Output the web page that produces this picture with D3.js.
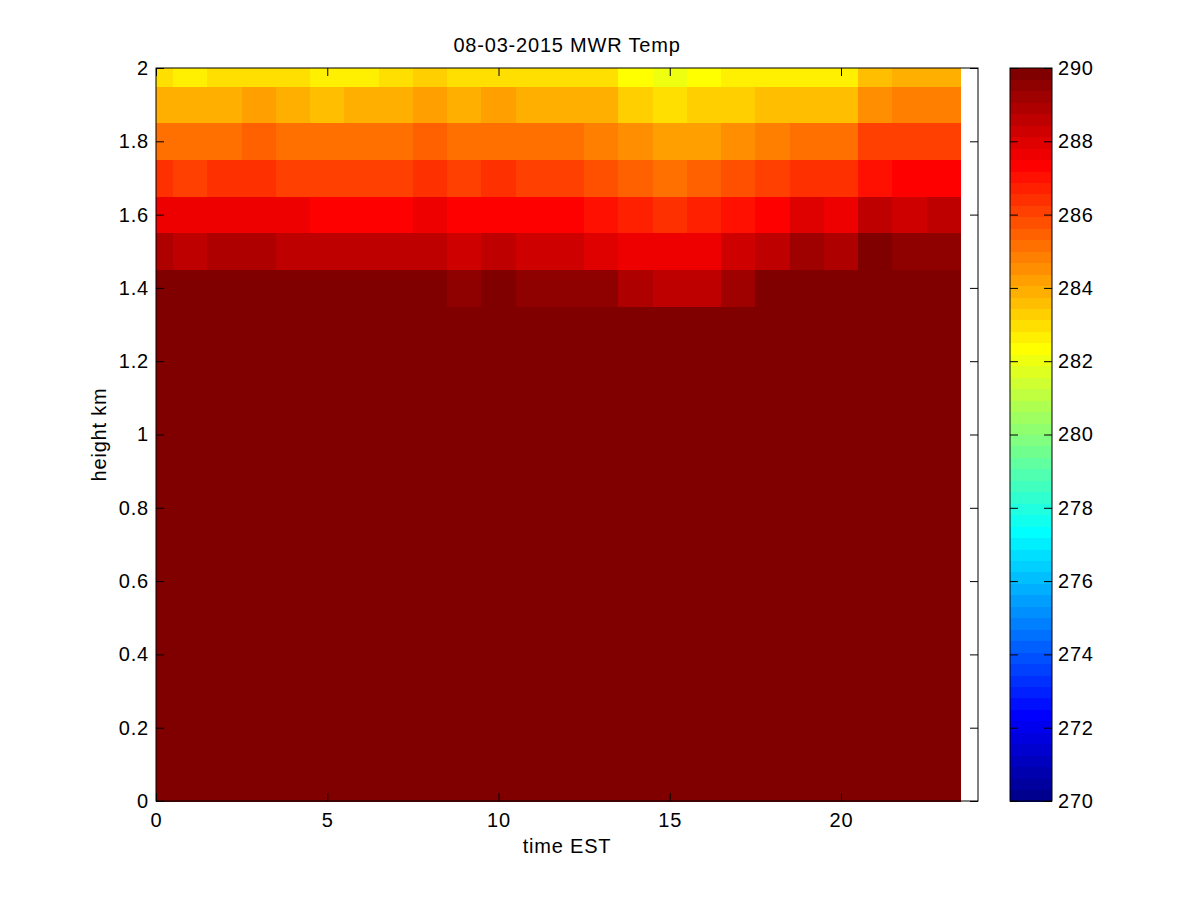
<!DOCTYPE html>
<html>
<head>
<meta charset="utf-8">
<script src="https://cdn.jsdelivr.net/npm/d3@7"></script>
<style>
  body { margin: 0; background: #fff; }
  text { font-family: "Liberation Sans", Arial, sans-serif; font-size: 20px; letter-spacing: 0.8px; fill: #000; }
</style>
</head>
<body>
<script>
// time (EST hours) of each profile column
const times = [0, 1, 2, 3, 4, 5, 6, 7, 8, 9, 10, 11, 12, 13, 14, 15, 16, 17, 18, 19, 20, 21, 22, 23];

// retrieval heights, km
const heights = [0, 0.1, 0.2, 0.3, 0.4, 0.5, 0.6, 0.7, 0.8, 0.9, 1.0,
  1.1, 1.2, 1.3, 1.4, 1.5, 1.6, 1.7, 1.8, 1.9, 2.0];

// temperature (K), one row per height, bottom to top.
// Below 1.4 km every cell is at or past the top of the colour scale.
const temps = [
  [290, 290, 290, 290, 290, 290, 290, 290, 290, 290, 290, 290, 290, 290, 290, 290, 290, 290, 290, 290, 290, 290, 290, 290],
  [290, 290, 290, 290, 290, 290, 290, 290, 290, 290, 290, 290, 290, 290, 290, 290, 290, 290, 290, 290, 290, 290, 290, 290],
  [290, 290, 290, 290, 290, 290, 290, 290, 290, 290, 290, 290, 290, 290, 290, 290, 290, 290, 290, 290, 290, 290, 290, 290],
  [290, 290, 290, 290, 290, 290, 290, 290, 290, 290, 290, 290, 290, 290, 290, 290, 290, 290, 290, 290, 290, 290, 290, 290],
  [290, 290, 290, 290, 290, 290, 290, 290, 290, 290, 290, 290, 290, 290, 290, 290, 290, 290, 290, 290, 290, 290, 290, 290],
  [290, 290, 290, 290, 290, 290, 290, 290, 290, 290, 290, 290, 290, 290, 290, 290, 290, 290, 290, 290, 290, 290, 290, 290],
  [290, 290, 290, 290, 290, 290, 290, 290, 290, 290, 290, 290, 290, 290, 290, 290, 290, 290, 290, 290, 290, 290, 290, 290],
  [290, 290, 290, 290, 290, 290, 290, 290, 290, 290, 290, 290, 290, 290, 290, 290, 290, 290, 290, 290, 290, 290, 290, 290],
  [290, 290, 290, 290, 290, 290, 290, 290, 290, 290, 290, 290, 290, 290, 290, 290, 290, 290, 290, 290, 290, 290, 290, 290],
  [290, 290, 290, 290, 290, 290, 290, 290, 290, 290, 290, 290, 290, 290, 290, 290, 290, 290, 290, 290, 290, 290, 290, 290],
  [290, 290, 290, 290, 290, 290, 290, 290, 290, 290, 290, 290, 290, 290, 290, 290, 290, 290, 290, 290, 290, 290, 290, 290],
  [290, 290, 290, 290, 290, 290, 290, 290, 290, 290, 290, 290, 290, 290, 290, 290, 290, 290, 290, 290, 290, 290, 290, 290],
  [290, 290, 290, 290, 290, 290, 290, 290, 290, 290, 290, 290, 290, 290, 290, 290, 290, 290, 290, 290, 290, 290, 290, 290],
  [290, 290, 290, 290, 290, 290, 290, 290, 290, 290, 290, 290, 290, 290, 290, 290, 290, 290, 290, 290, 290, 290, 290, 290],
  // 1.4 km
  [290, 290, 290, 290, 290, 290, 290, 290, 290, 289.5, 290, 289.5, 289.5, 289.4, 289.0, 288.7, 288.7, 289.2, 290, 290, 290, 290, 290, 290],
  // 1.5 km
  [288.9, 288.5, 288.8, 288.8, 288.6, 288.6, 288.6, 288.6, 288.6, 288.3, 288.6, 288.3, 288.3, 288.0, 287.7, 287.7, 287.7, 288.3, 288.6, 289.2, 289.0, 289.8, 289.4, 289.4],
  // 1.6 km
  [287.7, 287.7, 287.7, 287.7, 287.7, 287.3, 287.3, 287.3, 287.7, 287.3, 287.3, 287.3, 287.3, 287.0, 286.7, 286.4, 286.7, 287.0, 287.3, 288.0, 287.7, 288.6, 288.3, 288.6],
  // 1.7 km
  [286.4, 286.1, 286.4, 286.4, 286.1, 286.1, 286.1, 286.1, 286.4, 286.1, 286.4, 286.1, 286.1, 285.8, 285.5, 285.3, 285.5, 285.8, 286.1, 286.4, 286.4, 287.0, 287.3, 287.3],
  // 1.8 km
  [285.2, 285.2, 285.2, 285.5, 285.2, 285.2, 285.2, 285.2, 285.5, 285.2, 285.2, 285.2, 285.2, 284.8, 284.5, 284.2, 284.2, 284.5, 284.8, 285.2, 285.2, 286.1, 286.1, 286.1],
  // 1.9 km
  [283.9, 283.9, 283.9, 284.2, 283.9, 283.6, 283.9, 283.9, 284.2, 283.9, 284.2, 283.9, 283.9, 283.9, 283.3, 283.0, 283.3, 283.3, 283.6, 283.6, 283.6, 284.5, 284.8, 284.8],
  // 2.0 km
  [283.0, 282.7, 283.0, 283.0, 283.0, 282.7, 282.7, 283.0, 283.3, 283.0, 283.0, 283.0, 283.0, 283.0, 282.3, 282.0, 282.3, 282.7, 282.7, 282.7, 282.7, 283.6, 283.9, 283.9]
];

const xTicks = [0, 5, 10, 15, 20];
const yTicks = [0, 0.2, 0.4, 0.6, 0.8, 1, 1.2, 1.4, 1.6, 1.8, 2];
const colorTicks = [270, 272, 274, 276, 278, 280, 282, 284, 286, 288, 290];
const tempRange = [270, 290];

// plot frame
const plotLeft = 156, plotRight = 978, plotTop = 68, plotBottom = 801;
const cbLeft = 1010, cbRight = 1052;

// MATLAB style jet colormap with m levels
function jet(m) {
  var n = Math.ceil(m / 4);
  var u = [];
  for (var i = 1; i <= n; i++) u.push(i / n);
  for (var i = 1; i < n; i++) u.push(1);
  for (var i = n; i >= 1; i--) u.push(i / n);
  var g0 = Math.ceil(n / 2) - (m % 4 === 1 ? 1 : 0);
  var g = u.map((_, i) => g0 + i + 1);
  var r = g.map(v => v + n).filter(v => v <= m);
  var b = g.map(v => v - n).filter(v => v >= 1);
  var gg = g.filter(v => v <= m);
  var J = d3.range(m).map(() => [0, 0, 0]);
  r.forEach((idx, i) => J[idx - 1][0] = u[i]);
  gg.forEach((idx, i) => J[idx - 1][1] = u[i]);
  b.forEach((idx, i) => J[idx - 1][2] = u[u.length - b.length + i]);
  return J.map(c => d3.rgb(c[0] * 255, c[1] * 255, c[2] * 255).formatHex());
}

const jetColors = jet(64);
const color = d3.scaleQuantize().domain(tempRange).range(jetColors);

const xScale = d3.scaleLinear().domain([0, 24]).range([plotLeft, plotRight]);
const yScale = d3.scaleLinear().domain([0, 2]).range([plotBottom, plotTop]);
const cScale = d3.scaleLinear().domain(tempRange).range([plotBottom, plotTop]);

// cell edges halfway between samples, clipped to the first/last sample (like pcolor shading)
function edges(v, i, last) {
  var lo = i === 0 ? v[0] : (v[i - 1] + v[i]) / 2;
  var hi = i === v.length - 1 ? (last ? v[i] + (v[i] - v[i - 1]) / 2 : v[i]) : (v[i] + v[i + 1]) / 2;
  return [lo, hi];
}

var cells = [];
heights.forEach((h, i) => {
  var ye = edges(heights, i, false);
  times.forEach((t, j) => {
    var xe = edges(times, j, true);
    cells.push({ x0: xe[0], x1: xe[1], y0: ye[0], y1: ye[1], v: temps[i][j] });
  });
});

const svg = d3.select('body').
append('svg').
attr('width', 1200).
attr('height', 900);

svg.append('g').
attr('shape-rendering', 'crispEdges').
selectAll('rect').
data(cells).
enter().append('rect').
attr('x', d => xScale(d.x0)).
attr('y', d => yScale(d.y1)).
attr('width', d => xScale(d.x1) - xScale(d.x0) + 0.5).
attr('height', d => yScale(d.y0) - yScale(d.y1) + 0.5).
attr('fill', d => color(d.v));

// axes, ticks pointing inward
const fmt = d => String(+d.toFixed(1));

svg.append('g').
attr('transform', 'translate(0,' + plotBottom + ')').
call(d3.axisBottom(xScale).tickValues(xTicks).tickSize(-8).tickPadding(12).tickFormat(fmt));

svg.append('g').
attr('transform', 'translate(0,' + plotTop + ')').
call(d3.axisTop(xScale).tickValues(xTicks).tickSize(-8).tickFormat(''));

svg.append('g').
attr('transform', 'translate(' + plotLeft + ',0)').
call(d3.axisLeft(yScale).tickValues(yTicks).tickSize(-8).tickPadding(7).tickFormat(fmt));

svg.append('g').
attr('transform', 'translate(' + plotRight + ',0)').
call(d3.axisRight(yScale).tickValues(yTicks).tickSize(-8).tickFormat(''));

svg.append('rect').
attr('x', plotLeft).
attr('y', plotTop).
attr('width', plotRight - plotLeft).
attr('height', plotBottom - plotTop).
attr('fill', 'none').
attr('stroke', '#000');

// colorbar
var step = (tempRange[1] - tempRange[0]) / jetColors.length;
svg.append('g').
attr('shape-rendering', 'crispEdges').
selectAll('rect').
data(jetColors).
enter().append('rect').
attr('x', cbLeft).
attr('width', cbRight - cbLeft).
attr('y', (c, i) => cScale(tempRange[0] + (i + 1) * step)).
attr('height', cScale(tempRange[0]) - cScale(tempRange[0] + step) + 0.5).
attr('fill', c => c);

svg.append('g').
attr('transform', 'translate(' + cbRight + ',0)').
call(d3.axisRight(cScale).tickValues(colorTicks).tickSize(-8).tickPadding(6));

svg.append('g').
attr('transform', 'translate(' + cbLeft + ',0)').
call(d3.axisLeft(cScale).tickValues(colorTicks).tickSize(-8).tickFormat(''));

svg.append('rect').
attr('x', cbLeft).
attr('y', plotTop).
attr('width', cbRight - cbLeft).
attr('height', plotBottom - plotTop).
attr('fill', 'none').
attr('stroke', '#000');

svg.selectAll('.domain').remove();
svg.selectAll('.tick line').attr('stroke', '#000');
svg.selectAll('.tick text').
style('font-family', '"Liberation Sans", Arial, sans-serif').
style('font-size', '20px');

// labels
svg.append('text').
attr('x', (plotLeft + plotRight) / 2).
attr('y', 52).
style('text-anchor', 'middle').
text('08-03-2015 MWR Temp');

svg.append('text').
attr('x', (plotLeft + plotRight) / 2).
attr('y', 853).
style('text-anchor', 'middle').
text('time EST');

svg.append('text').
attr('transform', 'translate(106,' + yScale(1) + ') rotate(-90)').
style('text-anchor', 'middle').
text('height km');
</script>
</body>
</html>
